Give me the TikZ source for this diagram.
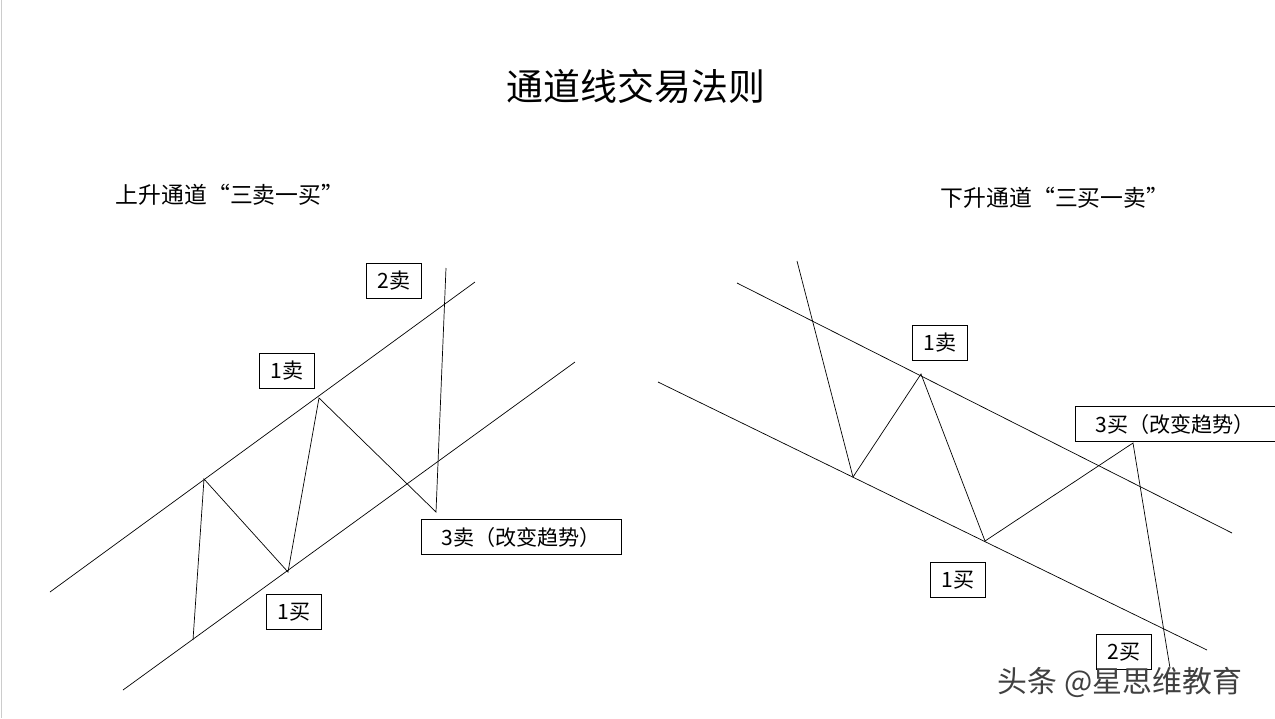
\documentclass[tikz,border=0pt]{standalone}
\usepackage{fontspec}
\setmainfont{Noto Sans CJK SC}
\usetikzlibrary{positioning}
\begin{document}
\begin{tikzpicture}[x=0.02cm,y=-0.02cm,% pixel grid of the slide
			every node/.style={align=center,font=\fontsize{12}{14}\selectfont},
			lab/.style={rectangle,draw=black,fill=white,inner sep=3pt,minimum height=0.7cm,minimum width=1.1cm},
			chan/.style={draw=black,thin}
		]
		\useasboundingbox (0,0) rectangle (1275,718);
		\draw[gray!40] (1,0) -- (1,718);
		\node(T) at (636,86) {\fontsize{21}{24}\selectfont 通道线交易法则};
		\node(S1) at (230,195) {\fontsize{13}{15}\selectfont 上升通道“三卖一买”};
		\node(S2) at (1055,198) {\fontsize{13}{15}\selectfont 下升通道“三买一卖”};
		% rising channel
		\coordinate (A1) at (50,592);  \coordinate (A2) at (475,282);
		\coordinate (B1) at (123,690); \coordinate (B2) at (575,362);
		\draw[chan] (A1) -- (A2);
		\draw[chan] (B1) -- (B2);
		\coordinate (P0) at (193,640); \coordinate (P1) at (204,479);
		\coordinate (P2) at (288,572); \coordinate (P3) at (319,398);
		\coordinate (P4) at (436,512); \coordinate (P5) at (446,268);
		\draw[chan] (P0) -- (P1) -- (P2) -- (P3) -- (P4) -- (P5);
		\node[lab](L2)  at (394,281) {2卖};
		\node[lab](L1)  at (287,371) {1卖};
		\node[lab,minimum width=4cm](L3) at (521,537) {3卖（改变趋势）};
		\node[lab](L4)  at (294,612) {1买};
		% falling channel
		\coordinate (C1) at (737,283); \coordinate (C2) at (1232,533);
		\coordinate (D1) at (658,382); \coordinate (D2) at (1207,650);
		\draw[chan] (C1) -- (C2);
		\draw[chan] (D1) -- (D2);
		\coordinate (Q0) at (797,261); \coordinate (Q1) at (853,477);
		\coordinate (Q2) at (921,374); \coordinate (Q3) at (985,541);
		\coordinate (Q4) at (1133,443); \coordinate (Q5) at (1170,668);
		\draw[chan] (Q0) -- (Q1) -- (Q2) -- (Q3) -- (Q4) -- (Q5);
		\node[lab](R1)  at (940,343) {1卖};
		\node[lab,minimum width=4cm](R3) at (1175,424) {3买（改变趋势）};
		\node[lab](R4)  at (958,580) {1买};
		\node[lab,fill=none](R2)  at (1124,652) {2买};
		\node[text=black!75](W) at (1120,682) {\fontsize{17}{19}\selectfont 头条 @星思维教育};
	\end{tikzpicture}
\end{document}
